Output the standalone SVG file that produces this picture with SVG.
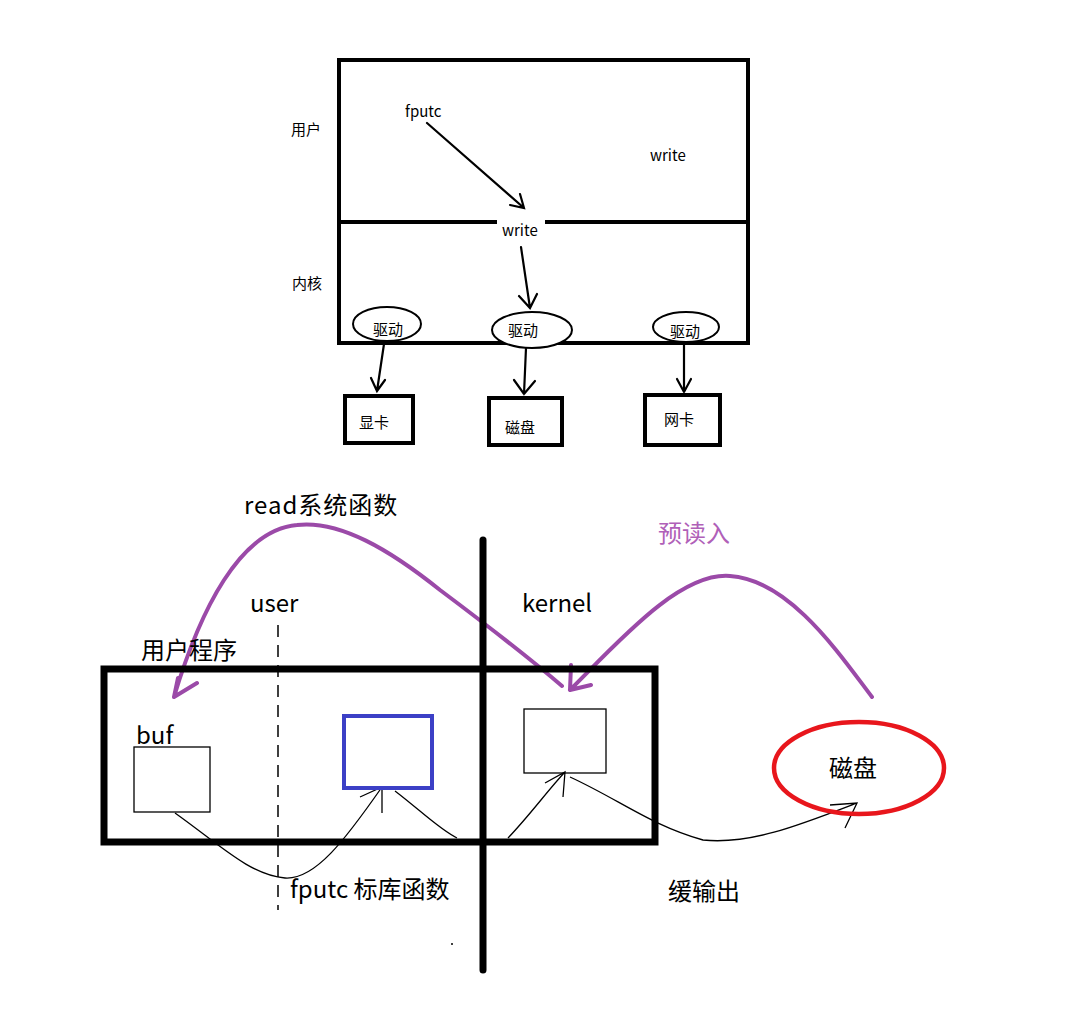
<svg xmlns="http://www.w3.org/2000/svg" width="1085" height="1012" viewBox="0 0 1085 1012">
<style>
text{font-family:"Noto Sans CJK SC","Noto Sans",sans-serif;fill:#000}
.s{font-size:15px}
.b{font-size:24px}
.thick{fill:none;stroke:#000;stroke-width:4}
.thin{fill:none;stroke:#000;stroke-width:1.3}
.pur{fill:none;stroke:#9b4aa8;stroke-width:4;stroke-linecap:round;stroke-linejoin:round}
.ar{fill:none;stroke:#000;stroke-width:2.2;stroke-linecap:round}
</style>
<rect width="1085" height="1012" fill="#fff"/>
<g id="top-frame">
<rect x="339" y="60" width="409" height="283" class="thick"/>
<line x1="339" y1="222" x2="497" y2="222" class="thick"/>
<line x1="545" y1="222" x2="748" y2="222" class="thick"/>
</g>
<g id="label-user"><text class="s" x="291" y="135">用户</text></g>
<g id="label-kernel"><text class="s" x="292" y="289">内核</text></g>
<g id="fputc-top"><text class="s" x="405" y="117">fputc</text></g>
<g id="write-right"><text class="s" x="650" y="161">write</text></g>
<g id="write-mid"><text class="s" x="502" y="236">write</text></g>
<g id="drv1"><ellipse cx="387" cy="324" rx="34" ry="17" fill="#fff" stroke="#000" stroke-width="2"/><text class="s" x="373" y="335">驱动</text></g>
<g id="drv2"><ellipse cx="532" cy="330" rx="40" ry="18" fill="#fff" stroke="#000" stroke-width="2"/><text class="s" x="508" y="336">驱动</text></g>
<g id="drv3"><ellipse cx="686" cy="327" rx="33" ry="15" fill="#fff" stroke="#000" stroke-width="2"/><text class="s" x="670" y="337">驱动</text></g>
<g id="gpu"><rect x="345" y="396" width="68" height="47" class="thick"/><text class="s" x="359" y="428">显卡</text></g>
<g id="disk-top"><rect x="489" y="398" width="73" height="47" class="thick"/><text class="s" x="505" y="433">磁盘</text></g>
<g id="nic"><rect x="645" y="395" width="75" height="50" class="thick"/><text class="s" x="664" y="425">网卡</text></g>
<g id="connectors">
<path class="ar" d="M427 123 L524 208 M520 194 L524 208 L510 205"/>
<path class="ar" d="M521 247 L530 308 M519 296 L530 308 L537 294"/>
<path class="ar" d="M384 344 L377 391 M371 378 L377 391 L385 380"/>
<path class="ar" d="M526 348 L524 394 M514 380 L524 394 L535 381"/>
<path class="ar" d="M684 345 L684 392 M677 379 L684 392 L691 379"/>
<path class="pur" d="M562 686 C520 650 480 620 440 590 C390 550 340 520 297 525 C240 530 200 610 174 697 M178 678 L174 697 L197 683"/>
<path class="pur" d="M872 697 C840 655 790 580 730 576 C680 572 620 640 570 690 M571 665 L570 690 L591 685"/>
<path class="thin" d="M175 813 C220 845 250 875 285 878 C315 880 345 840 382 787 M360 797 L382 787 L382 813"/>
<path class="thin" d="M395 791 C420 810 440 830 457 838"/>
<path class="thin" d="M508 838 C530 815 548 790 565 772 M545 783 L565 772 L563 797"/>
<path class="thin" d="M570 777 C620 800 650 825 703 840 C750 845 800 825 857 803 M830 805 L857 803 L845 828"/>
</g>
<g id="divider"><line x1="483" y1="540" x2="483" y2="970" stroke="#000" stroke-width="7" stroke-linecap="round"/></g>
<g id="user-line"><line x1="278" y1="625" x2="278" y2="910" stroke="#000" stroke-width="1.5" stroke-dasharray="12 8"/></g>
<g id="program"><rect x="104" y="669" width="551" height="173" fill="none" stroke="#000" stroke-width="7"/></g>
<g id="buf"><rect x="134" y="747" width="76" height="65" fill="none" stroke="#000" stroke-width="1.3"/><text class="b" x="136" y="744">buf</text></g>
<g id="stdbuf"><rect x="344" y="716" width="88" height="72" fill="none" stroke="#3c40c6" stroke-width="4"/></g>
<g id="kbuf"><rect x="524" y="709" width="82" height="64" fill="none" stroke="#000" stroke-width="1.3"/></g>
<g id="disk"><ellipse cx="859" cy="768" rx="85" ry="46" fill="none" stroke="#e8161c" stroke-width="4.5"/><text class="b" x="829" y="777">磁盘</text></g>
<g id="labels">
<text class="b" x="244" y="514" letter-spacing="1">read系统函数</text>
<text class="b" x="658" y="542" style="fill:#b060b8">预读入</text>
<text class="b" x="250" y="612">user</text>
<text class="b" x="522" y="612">kernel</text>
<text class="b" x="141" y="659">用户程序</text>
<text class="b" x="290" y="898">fputc 标库函数</text>
<text class="b" x="668" y="900">缓输出</text>
</g>
<circle cx="452" cy="944" r="1" fill="#000"/>
</svg>
